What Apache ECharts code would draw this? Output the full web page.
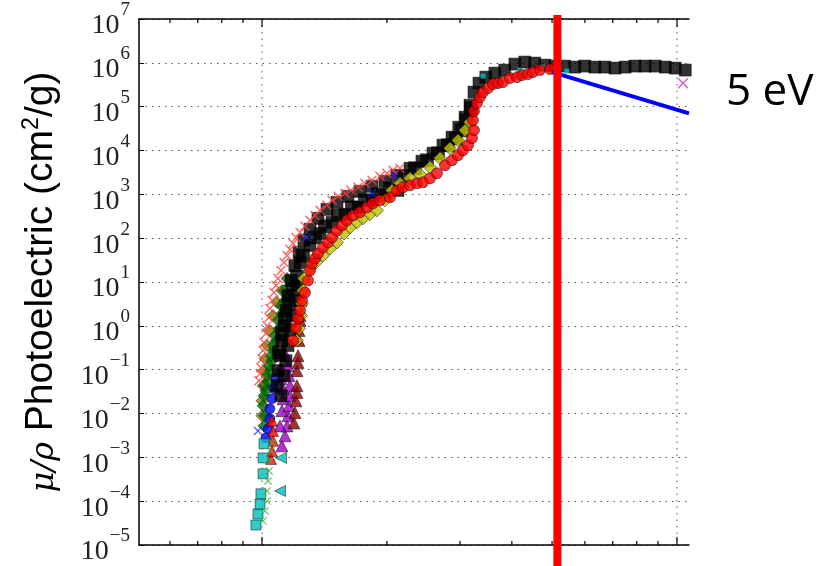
<!DOCTYPE html>
<html>
<head>
<meta charset="utf-8">
<script src="https://cdn.jsdelivr.net/npm/echarts@6/dist/echarts.min.js"></script>
<style>
  html, body { margin: 0; padding: 0; background: #fff; }
  #chart { width: 822px; height: 566px; }
</style>
</head>
<body>
<div id="chart"></div>
<script>
// axis ranges (energy axis is unlabeled in the source picture)
const xMin = 0.5053;
const xMax = 10.69;
const yMin = 1e-5;
const yMax = 1e7;
const xMajorTicks = [1, 10];
const xMinorTicks = [0.6, 0.7, 0.8, 0.9, 2, 3, 4, 5, 6, 7, 8, 9];
const redLineX = 5.15;
const annotation = '5 eV';

// series values, [energy, mu/rho]
const oliveDiamonds = [[1.0,0.0089],[1.0,0.0195],[1.006,0.043],[1.011,0.095],[1.017,0.178],[1.028,0.354],[1.045,0.78],[1.063,1.71],[1.087,3.4],[1.117,6.4]];
const greenDiamonds = [[1.011,0.0052],[1.017,0.0089],[1.006,0.015],[1.011,0.0255],[1.022,0.033],[1.017,0.043],[1.034,0.056],[1.028,0.073],[1.045,0.095],[1.04,0.123],[1.057,0.16],[1.051,0.209],[1.069,0.272],[1.063,0.354],[1.081,0.46],[1.075,0.6],[1.099,0.865],[1.093,1.32],[1.117,1.9],[1.111,2.9],[1.136,3.8],[1.13,6.4],[1.149,12]];
const blueCircles = [[1.022,0.0028],[1.034,0.0045],[1.045,0.0076],[1.045,0.0128],[1.057,0.0217],[1.069,0.037],[1.081,0.062]];
const purpleTriangles = [[1.117,0.00183],[1.136,0.0031],[1.149,0.0052],[1.105,0.0052],[1.155,0.0089],[1.117,0.0116],[1.162,0.015],[1.124,0.0217],[1.168,0.0255],[1.124,0.037],[1.168,0.043],[1.111,0.062],[1.162,0.073],[1.105,0.105],[1.155,0.123],[1.142,0.209]];
const darkRedTriangles = [[1.194,0.0061],[1.201,0.0104],[1.207,0.0195],[1.214,0.03],[1.214,0.043],[1.214,0.095],[1.221,0.145],[1.221,0.209],[1.228,0.46],[1.228,0.78],[1.235,1.32],[1.235,1.71],[1.242,3.8]];
const redTriangles = [[1.051,0.00092],[1.057,0.0014],[1.063,0.0024],[1.063,0.004],[1.057,0.0068]];
const cyanSquares = [[0.967,2.86e-5],[0.978,5.1e-5],[0.989,8.6e-5],[0.994,1.47e-4],[1.006,4.2e-4],[1.006,9.7e-4],[1.011,0.00204]];
const greenX = [[1.006,3.54e-5],[1.017,6.0e-5],[1.028,1.01e-4],[1.028,1.71e-4],[1.034,2.9e-4],[1.04,4.9e-4],[1.045,8.3e-4],[1.051,0.00141],[1.057,0.00214]];
const cyanTriangles = [[1.105,1.71e-4],[1.111,9.7e-4]];
const blackTop = [[1.087,0.043],[1.093,0.095],[1.105,0.209],[1.117,0.46],[1.13,1.01],[1.142,2.23],[1.155,4.9],[1.175,10.8],[1.2,23.8],[1.228,47],[1.262,89],[1.305,159],[1.364,283],[1.434,454],[1.516,656],[1.611,900],[1.722,1170],[1.84,1520],[1.978,1980],[2.115,2720],[2.273,3930],[2.429,5680],[2.583,8650],[2.729,13180],[2.87,20100],[2.98,34000],[3.085,57500],[3.171,108000],[3.242,214000],[3.333,344000],[3.462,472000],[3.641,583000],[3.845,683000],[4.068,935000],[4.298,1040000],[4.54,986000],[4.8,888000],[5.08,843000],[5.36,843000],[5.67,800000],[5.99,843000],[6.34,800000],[6.7,800000],[7.09,759000],[7.5,800000],[7.92,843000],[8.38,843000],[8.86,843000],[9.37,800000],[9.9,759000],[10.47,683000]];
const blackMid = [[1.099,0.245],[1.117,0.665],[1.136,1.47],[1.162,3.2],[1.188,6.7],[1.214,13.4],[1.255,40],[1.342,104],[1.418,186],[1.525,331],[1.647,505],[1.77,730],[1.901,1000],[2.034,1370],[2.187,2580],[2.336,3930],[2.497,5980],[2.655,8650],[2.806,13180],[2.93,19050],[3.03,29000],[3.11,49100],[3.19,92500]];
const blackLow = [[1.111,0.0255],[1.13,0.073],[1.142,0.16],[1.155,0.354],[1.168,0.78],[1.181,1.71],[1.2,3.8],[1.214,8.3],[1.235,27.9],[1.305,68],[1.38,128],[1.475,229],[1.585,349],[1.704,505],[1.841,730],[1.978,948],[2.127,1230]];
const yellowDiamonds = [[1.214,0.46],[1.228,0.865],[1.242,1.71],[1.249,3.2],[1.256,6.4],[1.262,12],[1.305,20.4],[1.349,27.9],[1.403,40.4],[1.458,58],[1.516,80],[1.577,128],[1.63,176],[1.694,229],[1.751,283],[1.82,349],[1.892,431],[1.979,730],[2.057,1230],[2.15,1780],[2.273,2320],[2.403,2860],[2.541,4140],[2.686,6650],[2.838,11250],[2.967,17100],[3.085,29000],[3.171,44200]];
const redX = [[0.983,0.056],[0.989,0.081],[0.994,0.111],[1.0,0.178],[1.006,0.272],[1.011,0.414],[1.022,0.665],[1.028,1.01],[1.04,1.55],[1.045,2.48],[1.057,3.8],[1.069,5.75],[1.081,8.3],[1.093,12],[1.111,18.3],[1.13,27.9],[1.149,40.4],[1.168,55],[1.188,76],[1.208,104],[1.235,135],[1.269,186],[1.305,255],[1.342,331],[1.38,431],[1.434,561],[1.475,730],[1.525,900],[1.585,1054],[1.638,1233],[1.704,1445],[1.77,1783],[1.841,2090],[1.924,2580],[2.0,3020],[2.069,3540],[2.15,3930]];
const blueX = [[0.978,0.004],[1.284,104],[1.84,1054],[2.09,2720]];
const cyanPeak = [[3.409,498000],[3.706,363000],[4.18,683000],[4.75,800000],[5.43,647000]];
const redCircles = [[1.188,0.46],[1.207,0.91],[1.221,1.47],[1.235,2.23],[1.249,3.8],[1.269,5.75],[1.291,10.8],[1.305,18.3],[1.32,26.5],[1.342,34.4],[1.364,44.8],[1.403,61.5],[1.442,80],[1.475,104],[1.516,150],[1.559,195],[1.603,255],[1.657,331],[1.722,388],[1.791,505],[1.851,622],[1.924,730],[2.034,853],[2.115,1230],[2.187,1445],[2.273,1607],[2.363,1783],[2.443,1880],[2.541,2322],[2.641,3020],[2.761,4600],[2.87,5980],[2.967,7780],[3.05,10130],[3.136,13180],[3.206,19050],[3.242,29000],[3.224,49100],[3.242,78900],[3.296,120000],[3.352,165000],[3.409,214000],[3.505,265000],[3.604,327000],[3.706,344000],[3.808,363000],[3.959,448000],[4.116,472000],[4.233,525000],[4.375,553000],[4.498,615000],[4.677,683000],[4.943,720000]];
const blueLine = [[5.0,615000],[10.69,70000]];
const magentaX = [[10.34,344000]];

const crossPath = 'path://M0,1L1,0L5,4L9,0L10,1L6,5L10,9L9,10L5,6L1,10L0,9L4,5Z';
const leftTriPath = 'path://M0,5L10,0L10,10Z';

const chart = echarts.init(document.getElementById('chart'));

function scatter(name, data, symbol, size, color, edge) {
    return {
        name: name, type: 'scatter', data: data, symbol: symbol, symbolSize: size,
        itemStyle: { color: color, borderColor: edge || '#000', borderWidth: edge === 'none' ? 0 : 0.6 },
        silent: true, z: 3
    };
}

// tick marks and vertical grid drawn through the x scale
function renderTicks(len, grid) {
    return function (params, api) {
        const x = api.coord([api.value(0), 1])[0];
        const cs = params.coordSys;
        const top = cs.y, bot = cs.y + cs.height;
        const kids = [
            { type: 'line', shape: { x1: x, y1: bot, x2: x, y2: bot - len }, style: { stroke: '#000', lineWidth: 1.2 } },
            { type: 'line', shape: { x1: x, y1: top, x2: x, y2: top + len }, style: { stroke: '#000', lineWidth: 1.2 } }
        ];
        if (grid) {
            kids.unshift({ type: 'line', shape: { x1: x, y1: top, x2: x, y2: bot }, style: { stroke: '#555', lineWidth: 1, lineDash: [1.5, 5] } });
        }
        return { type: 'group', children: kids };
    };
}

const supLabel = v => {
    const e = Math.round(Math.log10(v));
    return '{b|10}{s|' + (e < 0 ? '\u2212' + (-e) : e) + '}';
};

const option = {
    animation: false,
    backgroundColor: '#fff',
    grid: { left: 139, top: 19, right: 133, bottom: 21, outerBoundsMode: 'none', containLabel: false },
    xAxis: [
        {
            type: 'log', logBase: 10, min: xMin, max: xMax,
            axisLine: { show: true, lineStyle: { color: '#000', width: 1.5 } },
            axisTick: { show: false }, axisLabel: { show: false }, splitLine: { show: false }
        },
        {
            type: 'log', logBase: 10, min: xMin, max: xMax, position: 'top',
            axisLine: { show: true, lineStyle: { color: '#000', width: 1.5 } },
            axisTick: { show: false }, axisLabel: { show: false }, splitLine: { show: false }
        }
    ],
    yAxis: {
        type: 'log', logBase: 10, min: yMin, max: yMax, interval: 1,
        axisLine: { show: true, lineStyle: { color: '#000', width: 1.5 } },
        axisTick: { show: true, inside: true, length: 5, lineStyle: { color: '#000' } },
        splitLine: { show: true, lineStyle: { color: '#555', width: 1, type: [1.5, 5] } },
        axisLabel: {
            margin: 9,
            padding: [14, 0, 0, 0],
            formatter: supLabel,
            rich: {
                b: { fontFamily: 'Liberation Serif', fontSize: 28, color: '#222', lineHeight: 28, verticalAlign: 'bottom' },
                s: { fontFamily: 'Liberation Serif', fontSize: 19, color: '#222', lineHeight: 19, padding: [4, 0, 20, 1], verticalAlign: 'bottom' }
            }
        },
        name: '{m|\u03bc/\u03c1}{t| Photoelectric (cm}{s|2}{t|/g)}',
        nameLocation: 'middle',
        nameGap: 78,
        nameTextStyle: {
            rich: {
                m: { fontFamily: 'DejaVu Serif', fontStyle: 'italic', fontSize: 32, color: '#000', lineHeight: 38, verticalAlign: 'bottom' },
                t: { fontFamily: 'Liberation Sans', fontSize: 39, color: '#000', lineHeight: 40, verticalAlign: 'bottom' },
                s: { fontFamily: 'Liberation Sans', fontSize: 23, color: '#000', lineHeight: 23, padding: [0, 0, 18, 0], verticalAlign: 'bottom' }
            }
        }
    },
    series: [
        { type: 'custom', name: 'major', data: xMajorTicks.map(v => [v, 1]), renderItem: renderTicks(8, true), silent: true, z: 1 },
        { type: 'custom', name: 'minor', data: xMinorTicks.map(v => [v, 1]), renderItem: renderTicks(4, false), silent: true, z: 1 },
        scatter('olive', oliveDiamonds, 'diamond', 12, '#808000'),
        scatter('green', greenDiamonds, 'diamond', 12, '#007000'),
        scatter('blueCircles', blueCircles, 'circle', 10, '#0000ff'),
        scatter('purple', purpleTriangles, 'triangle', 12, '#a000c8'),
        scatter('darkred', darkRedTriangles, 'triangle', 12, '#8b0000'),
        scatter('redTri', redTriangles, 'triangle', 11, '#ff0000'),
        scatter('cyanSq', cyanSquares, 'rect', 10, '#00bfbf'),
        scatter('greenX', greenX, crossPath, 8, '#40b040', 'none'),
        scatter('cyanTri', cyanTriangles, leftTriPath, 11, '#00bfbf'),
        scatter('blackLow', blackLow, 'rect', 12, '#000'),
        scatter('blackMid', blackMid, 'rect', 13, '#000'),
        scatter('blackTop', blackTop, 'rect', 12, '#000'),
        scatter('yellow', yellowDiamonds, 'diamond', 13, '#bfbf00'),
        scatter('redX', redX, crossPath, 10, '#ff4040', 'none'),
        scatter('blueX', blueX, crossPath, 9, '#2020ff', 'none'),
        scatter('cyanPeak', cyanPeak, 'rect', 5, '#00bfbf', 'none'),
        scatter('redCircles', redCircles, 'circle', 11, '#ff0000'),
        {
            type: 'line', name: 'blueLine', data: blueLine, symbol: 'none', silent: true, z: 4,
            lineStyle: { color: '#0000ff', width: 4 }
        },
        scatter('magentaX', magentaX, crossPath, 11, '#d040d0', 'none'),
        {
            type: 'custom', name: 'redLine', data: [[redLineX, 1]], silent: true, z: 10,
            renderItem: function (params, api) {
                const x = api.coord([api.value(0), 1])[0];
                const cs = params.coordSys;
                return { type: 'line', shape: { x1: x, y1: cs.y - 4, x2: x, y2: cs.y + cs.height + 40 }, style: { stroke: '#ff0000', lineWidth: 8 } };
            }
        }
    ],
    graphic: [
        {
            type: 'text', left: 726, top: 70,
            style: { text: annotation, font: '44px "Open Sans"', fill: '#000' }
        }
    ]
};

chart.setOption(option);
</script>
</body>
</html>
